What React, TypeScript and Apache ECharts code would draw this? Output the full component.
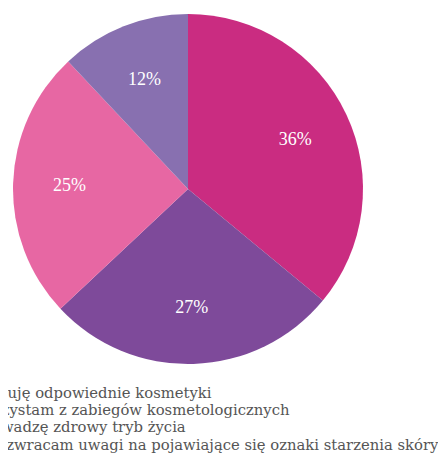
import React, { useEffect, useRef } from "react";
import * as echarts from "echarts";

const categories = [
  "Stosuję odpowiednie kosmetyki",
  "Korzystam z zabiegów kosmetologicznych",
  "Prowadzę zdrowy tryb życia",
  "Nie zwracam uwagi na pojawiające się oznaki starzenia skóry",
];
const values = [36, 27, 25, 12];
const colors = ["#CA2C81", "#7E4A9A", "#E767A3", "#8870B0"];

export default function App() {
  const ref = useRef<HTMLDivElement>(null);
  useEffect(() => {
    if (!ref.current) return;
    const chart = echarts.init(ref.current, null, { renderer: "svg" });
    const data = categories.map((name, i) => ({
      name,
      value: values[i],
      itemStyle: { color: colors[i] },
    }));
    chart.setOption({
      animation: false,
      legend: {
        orient: "vertical",
        left: -38,
        top: 377,
        itemWidth: 0,
        itemHeight: 0,
        itemGap: 2.2,
        icon: "rect",
        padding: 0,
        textStyle: { color: "#555", fontSize: 14.8, fontFamily: "DejaVu Serif" },
        data: categories,
      },
      series: [
        {
          type: "pie",
          center: [180, 181],
          radius: [0, 175],
          startAngle: 90,
          clockwise: true,
          label: { show: false },
          labelLine: { show: false },
          silent: true,
          data,
        },
        {
          type: "pie",
          center: [180, 181],
          radius: [56, 175],
          startAngle: 90,
          clockwise: true,
          silent: true,
          itemStyle: { color: "transparent" },
          label: {
            show: true,
            position: "inside",
            formatter: "{c}%",
            color: "#fff",
            fontSize: 18,
            fontFamily: "Liberation Serif",
          },
          labelLine: { show: false },
          data: categories.map((name, i) => ({
            name,
            value: values[i],
            itemStyle: { color: "transparent" },
          })),
        },
      ],
    });
    return () => chart.dispose();
  }, []);
  return <div ref={ref} style={{ width: 446, height: 467 }} />;
}
